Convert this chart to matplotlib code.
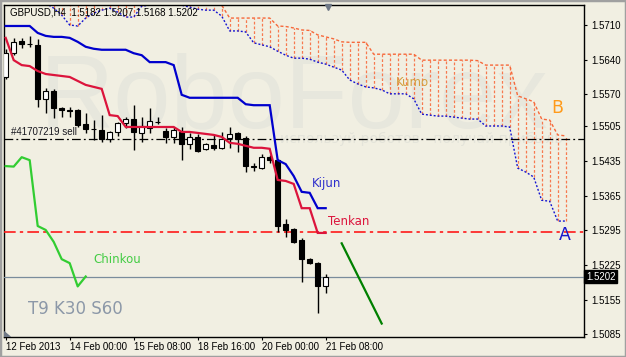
import numpy as np
import matplotlib.pyplot as plt
from matplotlib.patches import Rectangle, Polygon
from matplotlib.transforms import blended_transform_factory

# GBPUSD H4 bars, 12 Feb 16:00 .. 21 Feb 08:00 (bar index 0..40)
opens = [1.5605, 1.5654, 1.5678, 1.5672, 1.5670, 1.5561, 1.5577, 1.5542, 1.5538, 1.5538,
         1.5510, 1.5500, 1.5498, 1.5480, 1.5494, 1.5512, 1.5520, 1.5492, 1.5502, 1.5514,
         1.5496, 1.5484, 1.5494, 1.5470, 1.5484, 1.5460, 1.5468, 1.5462, 1.5482, 1.5492,
         1.5482, 1.5425, 1.5421, 1.5443, 1.5437, 1.5308, 1.5298, 1.5276, 1.5237, 1.5229,
         1.5182]
highs = [1.5662, 1.5684, 1.5684, 1.5688, 1.5682, 1.5583, 1.5581, 1.5544, 1.5544, 1.5540,
         1.5532, 1.5518, 1.5528, 1.5496, 1.5514, 1.5524, 1.5548, 1.5524, 1.5542, 1.5524,
         1.5502, 1.5504, 1.5504, 1.5492, 1.5490, 1.5472, 1.5488, 1.5494, 1.5504, 1.5494,
         1.5486, 1.5431, 1.5449, 1.5447, 1.5439, 1.5318, 1.5300, 1.5280, 1.5239, 1.5231,
         1.5207]
lows = [1.5600, 1.5650, 1.5664, 1.5666, 1.5544, 1.5532, 1.5522, 1.5524, 1.5524, 1.5504,
        1.5492, 1.5478, 1.5474, 1.5474, 1.5486, 1.5502, 1.5458, 1.5474, 1.5492, 1.5510,
        1.5472, 1.5472, 1.5437, 1.5460, 1.5454, 1.5458, 1.5458, 1.5460, 1.5462, 1.5454,
        1.5413, 1.5415, 1.5419, 1.5431, 1.5292, 1.5282, 1.5270, 1.5191, 1.5227, 1.5129,
        1.5168]
closes = [1.5654, 1.5676, 1.5672, 1.5671, 1.5561, 1.5577, 1.5542, 1.5538, 1.5537, 1.5508,
          1.5500, 1.5499, 1.5480, 1.5494, 1.5512, 1.5520, 1.5494, 1.5506, 1.5516, 1.5515,
          1.5484, 1.5498, 1.5470, 1.5484, 1.5456, 1.5470, 1.5462, 1.5480, 1.5490, 1.5480,
          1.5425, 1.5424, 1.5443, 1.5437, 1.5304, 1.5296, 1.5272, 1.5237, 1.5229, 1.5182,
          1.5202]

tenkan = [1.5684, 1.5639, 1.5629, 1.5627, 1.5617, 1.5611, 1.5609, 1.5607, 1.5605, 1.5597,
          1.5589, 1.5585, 1.5581, 1.5528, 1.5526, 1.5504, 1.5504, 1.5504, 1.5504, 1.5504,
          1.5504, 1.5504, 1.5494, 1.5494, 1.5492, 1.5490, 1.5488, 1.5484, 1.5472, 1.5470,
          1.5466, 1.5462, 1.5462, 1.5460, 1.5397, 1.5395, 1.5389, 1.5340, 1.5340, 1.5290,
          1.5290]
kijun = [1.5708, 1.5708, 1.5708, 1.5708, 1.5694, 1.5688, 1.5686, 1.5686, 1.5684, 1.5676,
         1.5666, 1.5662, 1.5660, 1.5660, 1.5660, 1.5660, 1.5653, 1.5649, 1.5635, 1.5635,
         1.5635, 1.5629, 1.5569, 1.5563, 1.5563, 1.5563, 1.5563, 1.5563, 1.5563, 1.5563,
         1.5550, 1.5548, 1.5548, 1.5548, 1.5437, 1.5429, 1.5405, 1.5373, 1.5371, 1.5340,
         1.5340]

# cloud, bar index 5..70 (shifted 30 bars forward)
kumo_start = 5
senkou_a = [1.5754, 1.5744, 1.5730, 1.5710, 1.5708, 1.5724, 1.5734, 1.5740, 1.5744, 1.5736,
            1.5726, 1.5726, 1.5748, 1.5750, 1.5754, 1.5756, 1.5756, 1.5750, 1.5746, 1.5742,
            1.5740, 1.5740, 1.5728, 1.5698, 1.5698, 1.5696, 1.5674, 1.5670, 1.5666, 1.5657,
            1.5649, 1.5643, 1.5643, 1.5641, 1.5635, 1.5631, 1.5625, 1.5619, 1.5599, 1.5591,
            1.5585, 1.5583, 1.5579, 1.5571, 1.5571, 1.5571, 1.5561, 1.5530, 1.5528, 1.5526,
            1.5526, 1.5524, 1.5522, 1.5520, 1.5520, 1.5506, 1.5506, 1.5506, 1.5504, 1.5421,
            1.5413, 1.5403, 1.5356, 1.5354, 1.5314, 1.5314]
senkou_b = [1.5785, 1.5785, 1.5785, 1.5785, 1.5785, 1.5785, 1.5785, 1.5785, 1.5785, 1.5785,
            1.5785, 1.5785, 1.5785, 1.5785, 1.5785, 1.5750, 1.5750, 1.5750, 1.5750, 1.5750,
            1.5750, 1.5750, 1.5750, 1.5724, 1.5724, 1.5724, 1.5724, 1.5724, 1.5724, 1.5708,
            1.5707, 1.5704, 1.5700, 1.5699, 1.5690, 1.5686, 1.5682, 1.5676, 1.5675, 1.5675,
            1.5675, 1.5651, 1.5651, 1.5651, 1.5651, 1.5651, 1.5651, 1.5639, 1.5639, 1.5639,
            1.5639, 1.5639, 1.5639, 1.5639, 1.5638, 1.5629, 1.5629, 1.5629, 1.5629, 1.5567,
            1.5561, 1.5555, 1.5520, 1.5518, 1.5488, 1.5486]

chinkou_shift = 30
sell_level = 1.5480
red_level = 1.5292
bid = 1.5202
trend_x = [42, 47]
trend_y = [1.5269, 1.5107]

date_ticks = [0, 8, 16, 24, 32, 40]
date_labels = ['12 Feb 2013', '14 Feb 00:00', '15 Feb 08:00', '18 Feb 16:00',
               '20 Feb 00:00', '21 Feb 08:00']
price_ticks = [1.5710, 1.5640, 1.5570, 1.5505, 1.5435, 1.5365, 1.5295, 1.5225, 1.5155, 1.5085]

bg = '#F1EFE2'
tick_font = 'Liberation Sans'

fig = plt.figure(figsize=(6.26, 3.57), dpi=100, facecolor=bg)
ax = fig.add_axes([4 / 626, 20 / 357, 580 / 626, 332.5 / 357], facecolor=bg)
ax.set_xlim(-0.2125, 72.29)
ax.set_ylim(1.50798, 1.57514)

# watermark
ax.text(4.3, 1.5504, 'RoboForex', fontsize=74, family='Liberation Sans',
        color='#E7E7DD', va='baseline', ha='left', zorder=0)
ax.text(34.3, 1.5480, 'используй роботов - получай прибыль', fontsize=10,
        color='#E4E4DA', va='center', ha='left', zorder=0)

# kumo
kx = np.arange(kumo_start, kumo_start + len(senkou_a))
sa = np.array(senkou_a)
sb = np.array(senkou_b)
ax.vlines(kx, np.minimum(sa, sb), np.maximum(sa, sb), colors='#F7794F',
          linewidth=0.9, linestyles=(0, (2.2, 1.6)), zorder=2)
ax.plot(kx, sb, color='#F7683A', lw=1.0, ls=(0, (2.2, 1.6)), zorder=2)
ax.plot(kx, sa, color='#1414D2', lw=1.0, ls=(0, (1.4, 1.4)), zorder=2)

# levels
ax.axhline(sell_level, color='black', lw=0.9, ls=(0, (7, 2.5, 1.5, 2.5)), zorder=3)
ax.axhline(red_level, color='#FF1A1A', lw=1.2, ls=(0, (7, 2.5, 2, 2.5)), zorder=3)
ax.axhline(bid, color='#7A8C9C', lw=0.9, zorder=3)

# candles
idx = np.arange(len(opens))
o = np.array(opens)
c = np.array(closes)
ax.vlines(idx, lows, highs, color='black', lw=1.0, zorder=4)
body_lo = np.minimum(o, c)
body_h = np.maximum(np.abs(c - o), 0.00004)
face = ['white' if cc >= oo else 'black' for oo, cc in zip(o, c)]
ax.bar(idx, body_h, bottom=body_lo, width=0.68, color=face, edgecolor='black',
       linewidth=0.8, zorder=5)

# ichimoku lines
ax.plot(idx, tenkan, color='#DC143C', lw=1.6, zorder=6, solid_joinstyle='miter')
ax.plot(idx, kijun, color='#0000CD', lw=1.6, zorder=6, solid_joinstyle='miter')
ch = closes[chinkou_shift:]
ax.plot(np.arange(len(ch)), ch, color='#32CD32', lw=1.6, zorder=6)

ax.plot(trend_x, trend_y, color='#008000', lw=1.6, zorder=6)

# labels
ax.text(38.3, 1.5389, 'Kijun', color='#2E2ECC', fontsize=8.5, va='center', ha='left')
ax.text(40.3, 1.5314, 'Tenkan', color='#DC143C', fontsize=8.5, va='center', ha='left')
ax.text(11.0, 1.5237, 'Chinkou', color='#44CC44', fontsize=8.5, va='center', ha='left')
ax.text(48.8, 1.5593, 'Kumo', color='#D4A040', fontsize=8.5, va='center', ha='left')
ax.text(68.2, 1.5542, 'B', color='#FF9A1A', fontsize=12.5, va='center', ha='left')
ax.text(69.1, 1.5286, 'A', color='#1818CC', fontsize=12.5, va='center', ha='left')
ax.text(2.8, 1.5136, 'T9 K30 S60', color='#8C98A8', fontsize=12, va='center', ha='left')
ax.text(0.7, 1.5493, '#41707219 sell', color='#1A1A22', fontsize=7,
        family=tick_font, va='center', ha='left', zorder=7)
ax.text(0.55, 1.5736, 'GBPUSD,H4  1.5182 1.5207 1.5168 1.5202', color='black',
        fontsize=7, family=tick_font, va='center', ha='left', zorder=7)

# axes styling
for s in ax.spines.values():
    s.set_color('black')
    s.set_linewidth(1.0)
ax.yaxis.tick_right()
ax.set_yticks(price_ticks)
ax.set_yticklabels(['%.4f' % p for p in price_ticks])
ax.set_xticks(date_ticks)
ax.set_xticklabels(date_labels, ha='left')
ax.tick_params(axis='both', direction='out', length=2.4, width=0.8, color='black',
               labelsize=7)
ax.tick_params(axis='y', pad=2.6)
ax.tick_params(axis='x', pad=1.5)
for lab in ax.get_xticklabels() + ax.get_yticklabels():
    lab.set_family(tick_font)

tr = blended_transform_factory(ax.transAxes, ax.transData)
ax.text(1.0036, bid, '1.5202', transform=tr, color='white', fontsize=7,
        family=tick_font, va='center', ha='left', clip_on=False, zorder=8,
        bbox=dict(boxstyle='square,pad=0.18', fc='black', ec='black'))

# chart shift marker and corner mark
ax.plot([40.25], [1.5746], marker='v', color='#6E7886', markersize=5, clip_on=False,
        zorder=8)
ax.add_patch(Polygon([[0, 0], [0.011, 0], [0, 0.016]], closed=True,
                     transform=ax.transAxes, color='#6E7886', zorder=8))

fig.patches.append(Rectangle((0, 0), 1, 1, transform=fig.transFigure, fill=False,
                             edgecolor='#A0A0A0', linewidth=2.5))

fig.savefig('out.png', dpi=100, facecolor=bg)
